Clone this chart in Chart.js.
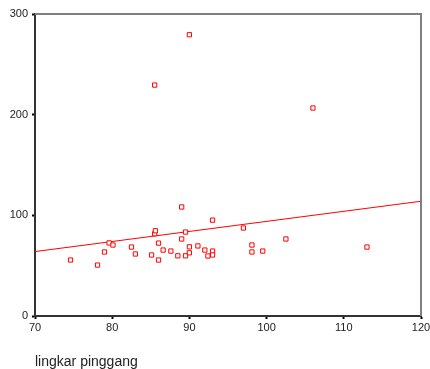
<!DOCTYPE html>
<html>
<head>
<meta charset="utf-8">
<script src="https://cdn.jsdelivr.net/npm/chart.js@4"></script>
<style>
  html, body { margin: 0; padding: 0; background: #fff; }
  #wrap { width: 430px; height: 369px; }
</style>
</head>
<body>
<div id="wrap"><canvas id="scatterChart" width="430" height="369"></canvas></div>
<script>
// data
const waistX = [74.6, 78.1, 79.0, 79.6, 80.1, 82.5, 83.0, 85.1, 85.5, 85.6, 86.0, 86.0, 86.6, 87.6, 88.5,
  89.0, 89.0, 89.5, 89.5, 90.0, 90.0, 91.1, 92.0, 92.4, 93.0, 93.0, 93.0, 85.5, 90.0, 106.0,
  97.0, 98.1, 98.1, 99.5, 102.5, 113.0];
const valueY = [55.6, 50.6, 63.6, 72.6, 70.5, 68.5, 61.6, 60.6, 81.7, 84.7, 72.4, 55.6, 65.5, 64.5, 59.8,
  108.3, 76.5, 83.4, 59.8, 68.7, 62.8, 69.6, 65.5, 59.6, 95.2, 64.5, 60.6, 229.4, 279.4, 206.6,
  87.4, 70.5, 63.6, 64.5, 76.5, 68.5];
const fitX = [70, 120];
const fitY = [64, 114];
const xTicks = [70, 80, 90, 100, 110, 120];
const yTicks = [0, 100, 200, 300];

const points = waistX.map((x, i) => ({ x: x, y: valueY[i] }));
const fitLine = fitX.map((x, i) => ({ x: x, y: fitY[i] }));

// top + right frame lines
const framePlugin = {
  id: 'frame',
  afterDraw(chart) {
    const { ctx, chartArea } = chart;
    ctx.save();
    ctx.strokeStyle = '#808080';
    ctx.lineWidth = 2;
    ctx.beginPath();
    ctx.moveTo(chartArea.left, chartArea.top);
    ctx.lineTo(chartArea.right, chartArea.top);
    ctx.lineTo(chartArea.right, chartArea.bottom);
    ctx.stroke();
    ctx.restore();
  }
};

Chart.defaults.font.family = '"Liberation Sans", Arial, sans-serif';

new Chart(document.getElementById('scatterChart'), {
  type: 'scatter',
  data: {
    datasets: [
      {
        data: points,
        pointStyle: 'rect',
        pointRadius: 3,
        pointBorderWidth: 1,
        pointBorderColor: '#ff0000',
        pointBackgroundColor: '#ffffff',
        order: 1
      },
      {
        type: 'line',
        data: fitLine,
        borderColor: '#ff0000',
        borderWidth: 1,
        pointRadius: 0,
        fill: false,
        order: 2
      }
    ]
  },
  options: {
    responsive: false,
    animation: false,
    layout: { padding: { left: 0, right: 9, top: 14, bottom: 0 } },
    plugins: { legend: { display: false }, tooltip: { enabled: false } },
    scales: {
      x: {
        type: 'linear',
        min: 70,
        max: 120,
        afterBuildTicks: s => { s.ticks = xTicks.map(v => ({ value: v })); },
        afterFit: s => { s.height = 53; s.paddingLeft = 0; s.paddingRight = 0; },
        grid: { drawOnChartArea: false, tickLength: 3, tickColor: '#000', tickWidth: 2 },
        border: { color: '#333', width: 2 },
        ticks: { color: '#222', font: { size: 11 }, padding: 2, maxRotation: 0 },
        title: {
          display: true,
          text: 'lingkar pinggang',
          align: 'start',
          color: '#222',
          font: { size: 14, lineHeight: 1 },
          padding: 0
        }
      },
      y: {
        min: 0,
        max: 300,
        afterBuildTicks: s => { s.ticks = yTicks.map(v => ({ value: v })); },
        afterFit: s => { s.width = 35; s.paddingTop = 0; s.paddingBottom = 0; },
        grid: { drawOnChartArea: false, tickLength: 3, tickColor: '#000', tickWidth: 2 },
        border: { color: '#333', width: 2 },
        ticks: { color: '#222', font: { size: 11 }, padding: 4 }
      }
    }
  },
  plugins: [framePlugin]
});
</script>
</body>
</html>
